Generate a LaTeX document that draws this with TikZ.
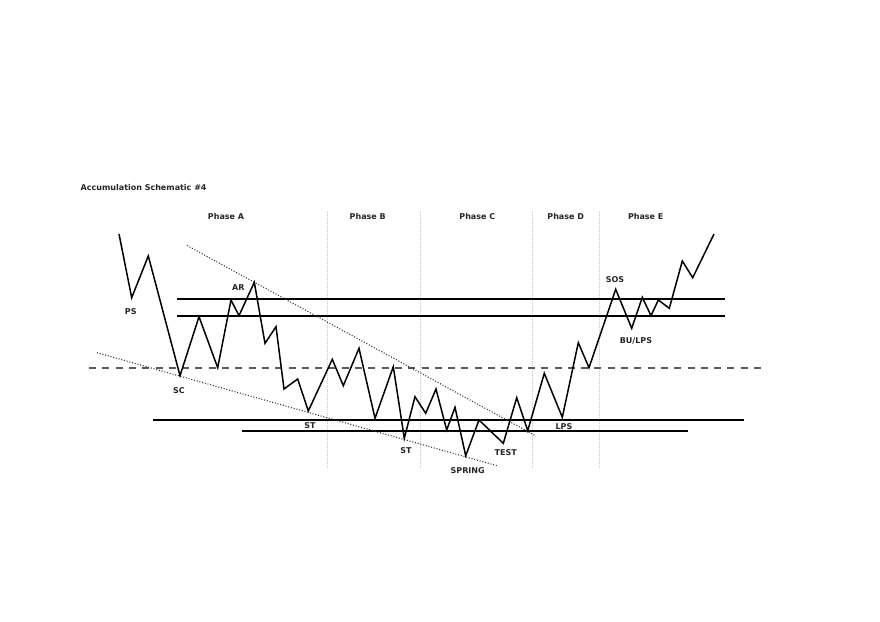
\documentclass[tikz,border=0pt]{standalone}
\usepackage{fontspec}
\setmainfont{DejaVu Sans}
\begin{document}
\begin{tikzpicture}[x=1pt,y=-1pt,
  lbl/.style={font=\bfseries\fontsize{8}{9}\selectfont, inner sep=0pt, text=black!85},
  price/.style={line width=1.5pt, line join=miter},
  level/.style={line width=1.5pt},
  midline/.style={line width=1.6pt, draw=black!65, dash pattern=on 7pt off 6.3pt},
  trend/.style={line width=1.1pt, draw=black!80, dash pattern=on 1pt off 1.8pt},
  divider/.style={line width=0.8pt, draw=black!22, dash pattern=on 1pt off 1pt}]
\useasboundingbox (0,0) rectangle (880,621);
\fill[white] (0,0) rectangle (880,621);
% phase dividers
\foreach \x/\n in {327/d1,420/d2,532/d3,599/d4}
  \draw[divider] (\x,211) coordinate (\n t) -- (\x,468) coordinate (\n b);
% levels
\draw[level] (177,299) coordinate (r1a) -- (725,299) coordinate (r1b);
\draw[level] (177,316) coordinate (r2a) -- (725,316) coordinate (r2b);
\draw[midline] (89,368) coordinate (ma) -- (765,368) coordinate (mb);
\draw[level] (153,420) coordinate (s1a) -- (744,420) coordinate (s1b);
\draw[level] (242,431) coordinate (s2a) -- (688,431) coordinate (s2b);
% trend lines
\draw[trend] (187,245.5) coordinate (ta) -- (536,436) coordinate (tb);
\draw[trend] (97,352.7) coordinate (la) -- (497,465.7) coordinate (lb);
% price path
\draw[price] (119,234) -- (131.7,297.7) -- (148.3,256) -- (180,375.7) -- (199,316.7)
  -- (217.7,367.7) -- (231,300) -- (239,315.7) -- (254.3,282.3) -- (265,343.3)
  -- (276,326.7) -- (284,389) -- (297.7,379) -- (308.3,411) -- (332.3,359.3)
  -- (343.3,385.7) -- (359,348.3) -- (375,418.3) -- (393.3,366.7) -- (404.3,438.3)
  -- (415,396.7) -- (425.7,413.3) -- (436,389) -- (446.7,430) -- (455,407.3)
  -- (465.7,455.7) -- (479,420) -- (503.3,443.3) -- (516.7,397.7) -- (527.7,430.7)
  -- (544.3,373.3) -- (562.3,417.3) -- (578.3,342.7) -- (589,367.7) -- (615.7,289.3)
  -- (631.7,328.3) -- (642.3,297.3) -- (651,315.7) -- (658.3,300) -- (669.3,308.3)
  -- (682.3,261) -- (692.7,277.7) -- (714,234);
% labels
\node[lbl, anchor=west] (title) at (80.5,188) {Accumulation Schematic \#4};
\node[lbl] (pa) at (226,216.5) {Phase A};
\node[lbl] (pb) at (367.7,216.5) {Phase B};
\node[lbl] (pc) at (477.3,216.5) {Phase C};
\node[lbl] (pd) at (565.7,216.5) {Phase D};
\node[lbl] (pe) at (645.7,216.5) {Phase E};
\node[lbl] (ps) at (130.7,311.7) {PS};
\node[lbl] (sc) at (179,391) {SC};
\node[lbl] (ar) at (238.3,287.7) {AR};
\node[lbl] (st1) at (310,426) {ST};
\node[lbl] (st2) at (406,451) {ST};
\node[lbl] (spring) at (467.7,471) {SPRING};
\node[lbl] (test) at (505.7,452.3) {TEST};
\node[lbl] (lps) at (564,426.7) {LPS};
\node[lbl] (sos) at (615,280) {SOS};
\node[lbl] (bulps) at (636,341) {BU/LPS};
\end{tikzpicture}
\end{document}
